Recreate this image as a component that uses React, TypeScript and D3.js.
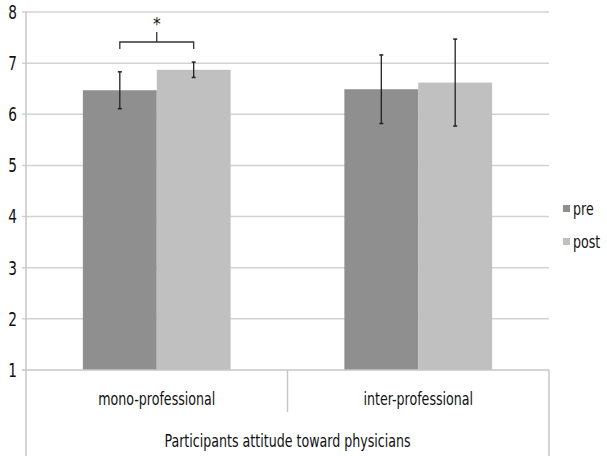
import React, { useEffect, useRef } from 'react';
import * as d3 from 'd3';

// datos
const categories = ['mono-professional', 'inter-professional'];
const seriesNames = ['pre', 'post'];
const preMeans = [6.47, 6.49];
const postMeans = [6.87, 6.62];
const preErr = [0.36, 0.67];
const postErr = [0.15, 0.85];
const yTicks = [1, 2, 3, 4, 5, 6, 7, 8];
const axisTitle = 'Participants attitude toward physicians';

const COLORS = { pre: '#8f8f8f', post: '#c0c0c0', grid: '#d2d2d2', axis: '#c6c6c6', text: '#111' };
const FONT = "'DejaVu Sans Condensed', 'Liberation Sans', sans-serif";

// estrecha el texto para parecerse a Calibri
const narrow = (sel: any, k = 0.78) => {
  sel.each(function (this: SVGTextElement) {
    const w = this.getComputedTextLength();
    d3.select(this).attr('textLength', w * k).attr('lengthAdjust', 'spacingAndGlyphs');
  });
};

const App = () => {
  const svgRef = useRef<SVGSVGElement>(null);
  const width = 607;
  const height = 456;
  const margin = { top: 12, right: 58, bottom: 86, left: 26 };

  useEffect(() => {
    const svg = d3.select(svgRef.current);
    svg.selectAll('*').remove();
    svg.attr('width', width).attr('height', height);

    const x0 = d3.scaleBand().domain(categories).range([margin.left, width - margin.right]).paddingInner(0).paddingOuter(0);
    const inner = x0.bandwidth() * 0.565;
    const x1 = d3.scaleBand().domain(seriesNames).range([0, inner]);
    const y = d3.scaleLinear().domain([1, 8]).range([height - margin.bottom, margin.top]);

    // líneas de cuadrícula
    svg.append('g').selectAll('line').data(yTicks.slice(1)).enter().append('line')
      .attr('x1', margin.left - 4).attr('x2', width - margin.right)
      .attr('y1', d => y(d)).attr('y2', d => y(d))
      .attr('stroke', COLORS.grid).attr('stroke-width', 1.5);

    // etiquetas del eje y
    svg.append('g').selectAll('text').data(yTicks).enter().append('text')
      .attr('x', 17).attr('y', d => y(d)).attr('dy', '0.36em')
      .attr('text-anchor', 'end').attr('font-family', FONT).attr('font-size', 19)
      .attr('fill', COLORS.text).text(d => d)
      .call(narrow, 0.8);

    // barras
    const rows = categories.map((c, i) => [
      { cat: c, key: 'pre', value: preMeans[i], err: preErr[i] },
      { cat: c, key: 'post', value: postMeans[i], err: postErr[i] }
    ]);
    const groups = svg.append('g').selectAll('g').data(rows).enter().append('g')
      .attr('transform', d => `translate(${x0(d[0].cat)! + (x0.bandwidth() - inner) / 2},0)`);

    groups.selectAll('rect').data(d => d).enter().append('rect')
      .attr('x', d => x1(d.key)!).attr('width', x1.bandwidth())
      .attr('y', d => y(d.value)).attr('height', d => y(1) - y(d.value))
      .attr('fill', d => (d.key === 'pre' ? COLORS.pre : COLORS.post));

    // barras de error
    const eb = groups.selectAll('g.err').data(d => d).enter().append('g').attr('class', 'err')
      .attr('transform', d => `translate(${x1(d.key)! + x1.bandwidth() / 2},0)`);
    eb.append('line').attr('x1', 0).attr('x2', 0)
      .attr('y1', d => y(d.value + d.err)).attr('y2', d => y(d.value - d.err))
      .attr('stroke', '#222').attr('stroke-width', 1.3);
    eb.selectAll('line.cap').data(d => [d.value + d.err, d.value - d.err]).enter().append('line')
      .attr('class', 'cap').attr('x1', -2).attr('x2', 2)
      .attr('y1', v => y(v)).attr('y2', v => y(v))
      .attr('stroke', '#222').attr('stroke-width', 1.5);

    // ejes
    const axisBottom = y(1);
    svg.append('line').attr('x1', margin.left - 4).attr('x2', width - margin.right)
      .attr('y1', axisBottom).attr('y2', axisBottom).attr('stroke', COLORS.axis).attr('stroke-width', 1.5);
    svg.append('line').attr('x1', margin.left).attr('x2', margin.left)
      .attr('y1', margin.top).attr('y2', height).attr('stroke', COLORS.axis).attr('stroke-width', 1.5);
    svg.append('line').attr('x1', width - margin.right).attr('x2', width - margin.right)
      .attr('y1', axisBottom).attr('y2', height).attr('stroke', COLORS.axis).attr('stroke-width', 1.5);
    const sep = x0(categories[1])!;
    svg.append('line').attr('x1', sep).attr('x2', sep)
      .attr('y1', axisBottom).attr('y2', axisBottom + 42).attr('stroke', COLORS.axis).attr('stroke-width', 1.5);

    // etiquetas de categoría
    svg.append('g').selectAll('text').data(categories).enter().append('text')
      .attr('x', d => x0(d)! + x0.bandwidth() / 2).attr('y', axisBottom + 35)
      .attr('text-anchor', 'middle').attr('font-family', FONT).attr('font-size', 18)
      .attr('fill', COLORS.text).text(d => d)
      .call(narrow);
    svg.append('text')
      .attr('x', (margin.left + width - margin.right) / 2).attr('y', axisBottom + 77)
      .attr('text-anchor', 'middle').attr('font-family', FONT).attr('font-size', 18)
      .attr('fill', COLORS.text).text(axisTitle)
      .call(narrow);

    // corchete de significancia
    const gx = x0(categories[0])! + (x0.bandwidth() - inner) / 2;
    const bx1 = gx + x1('pre')! + x1.bandwidth() / 2;
    const bx2 = gx + x1('post')! + x1.bandwidth() / 2;
    const by = 42;
    svg.append('path')
      .attr('d', `M${bx1},${by + 7}V${by}H${bx2}V${by + 7}M${(bx1 + bx2) / 2},${by}V${by - 10}`)
      .attr('fill', 'none').attr('stroke', '#333').attr('stroke-width', 1.3);
    svg.append('text').attr('x', (bx1 + bx2) / 2).attr('y', 30)
      .attr('text-anchor', 'middle').attr('font-family', FONT).attr('font-size', 17)
      .attr('fill', COLORS.text).text('*');

    // leyenda
    const legend = svg.append('g').attr('transform', `translate(563, 205)`);
    seriesNames.forEach((s, i) => {
      const row = legend.append('g').attr('transform', `translate(0, ${i * 33})`);
      row.append('rect').attr('width', 7).attr('height', 7)
        .attr('fill', s === 'pre' ? COLORS.pre : COLORS.post);
      row.append('text').attr('x', 10).attr('y', 4).attr('dy', '0.35em')
        .attr('font-family', FONT).attr('font-size', 18).attr('fill', COLORS.text).text(s)
        .call(narrow);
    });
  }, []);

  return (
    <div style={{ position: 'absolute', left: 0, top: 0 }}>
      <svg ref={svgRef} style={{ display: 'block' }} />
    </div>
  );
};

export default App;
